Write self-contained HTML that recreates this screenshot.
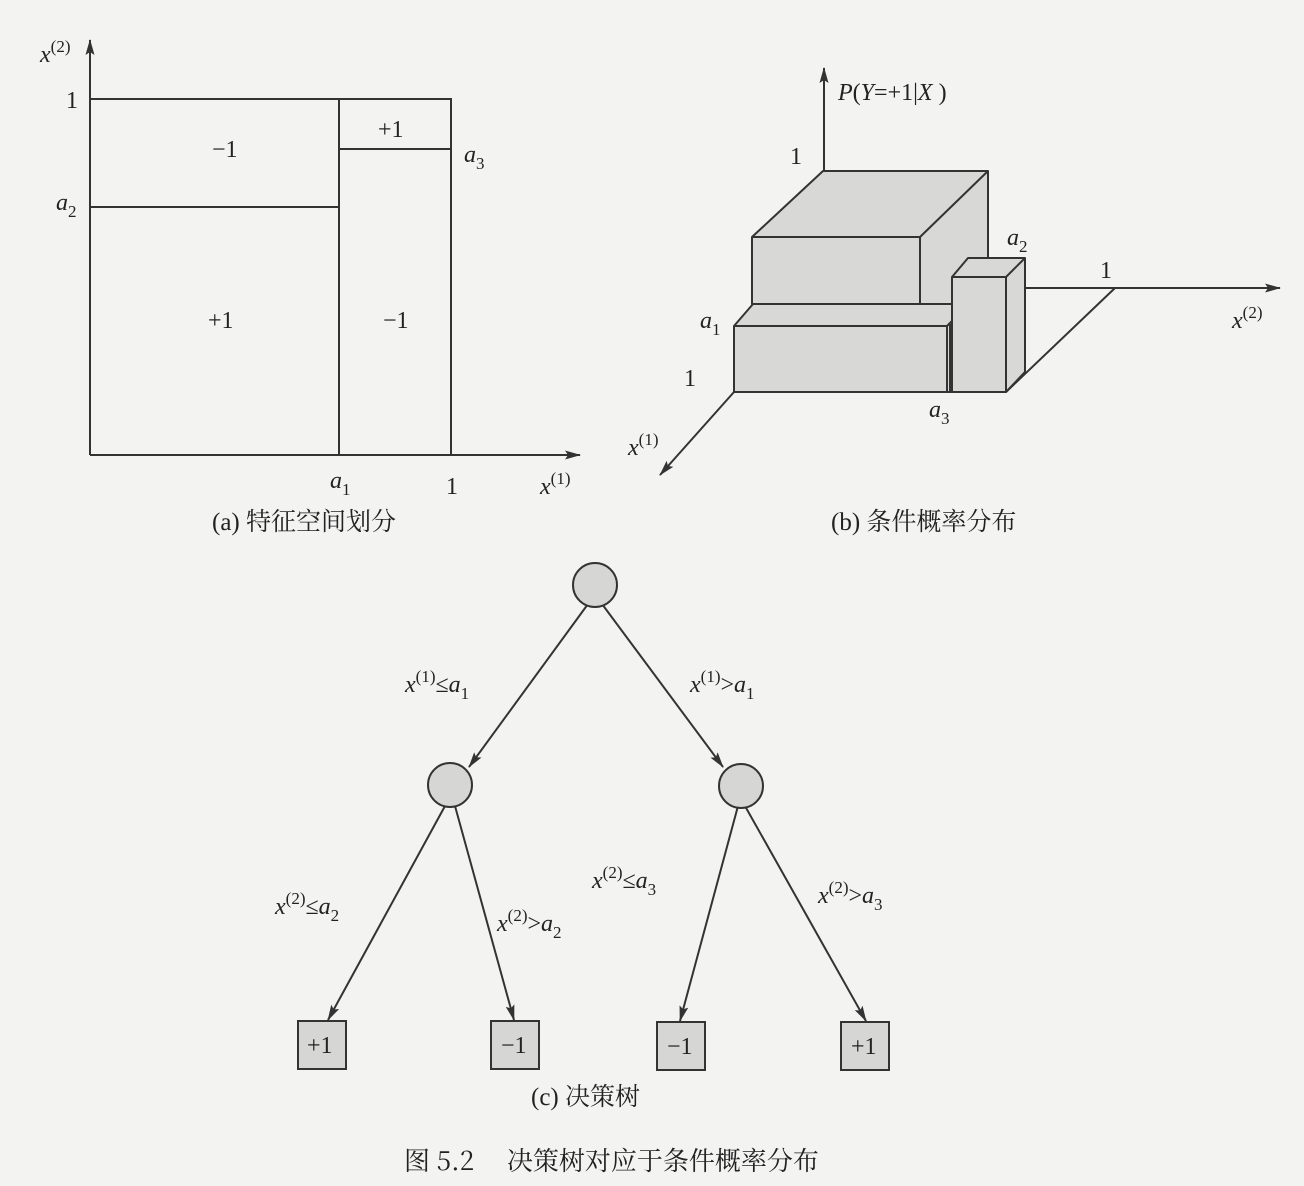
<!DOCTYPE html>
<html><head><meta charset="utf-8"><style>
html,body{margin:0;padding:0;background:#f3f3f2;}
svg{display:block}
text{font-family:"Liberation Serif","Noto Serif CJK SC",serif;fill:#222}
.i{font-style:italic}
</style></head><body>
<svg width="1304" height="1186" viewBox="0 0 1304 1186" xmlns="http://www.w3.org/2000/svg">
<defs>
<marker id="ar" markerWidth="16" markerHeight="9" refX="15" refY="4.5" orient="auto" markerUnits="userSpaceOnUse"><path d="M0,0 L16,4.5 L0,9 L3,4.5 Z" fill="#333"/></marker>
</defs>
<g stroke="#333" stroke-width="2" fill="none">
<!-- (a) -->
<line x1="90" y1="455" x2="90" y2="40" marker-end="url(#ar)"/>
<line x1="90" y1="455" x2="580" y2="455" marker-end="url(#ar)"/>
<polyline points="90,99 451,99 451,455"/>
<line x1="339" y1="99" x2="339" y2="455"/>
<line x1="90" y1="207" x2="339" y2="207"/>
<line x1="339" y1="149" x2="451" y2="149"/>
</g>
<g font-size="24">
<text x="40" y="62"><tspan class="i">x</tspan><tspan font-size="17" dy="-10">(2)</tspan></text>
<text x="66" y="108">1</text>
<text x="56" y="210"><tspan class="i">a</tspan><tspan font-size="17" dy="7">2</tspan></text>
<text x="464" y="162"><tspan class="i">a</tspan><tspan font-size="17" dy="7">3</tspan></text>
<text x="212" y="157">−1</text>
<text x="378" y="137">+1</text>
<text x="208" y="328">+1</text>
<text x="383" y="328">−1</text>
<text x="330" y="488"><tspan class="i">a</tspan><tspan font-size="17" dy="7">1</tspan></text>
<text x="446" y="494">1</text>
<text x="540" y="494"><tspan class="i">x</tspan><tspan font-size="17" dy="-10">(1)</tspan></text>
<text x="212" y="530" font-size="25">(a) 特征空间划分</text>
</g>
<!-- (b) -->
<g stroke="#333" stroke-width="2" fill="#d8d8d6" stroke-linejoin="round">
<line x1="824" y1="171" x2="824" y2="68" marker-end="url(#ar)"/>
<line x1="1025" y1="288" x2="1280" y2="288" marker-end="url(#ar)"/>
<line x1="1006" y1="392" x2="1115" y2="288"/>
<line x1="734" y1="392" x2="660" y2="475" marker-end="url(#ar)"/>
<polygon points="823,171 988,171 988,304 752,304 752,237"/>
<line x1="752" y1="237" x2="920" y2="237"/><line x1="920" y1="237" x2="988" y2="171"/><line x1="920" y1="237" x2="920" y2="304"/>
<polygon points="753,304 952,304 952,392 734,392 734,326"/>
<line x1="734" y1="326" x2="947" y2="326"/><line x1="947" y1="326" x2="947" y2="392"/><line x1="947" y1="326" x2="952" y2="321"/><line x1="950" y1="324" x2="950" y2="392"/>
<polygon points="952,277 968,258 1025,258 1025,372 1006,392 952,392"/>
<line x1="952" y1="277" x2="1006" y2="277"/><line x1="1006" y1="277" x2="1025" y2="258"/><line x1="1006" y1="277" x2="1006" y2="392"/>
</g>
<g font-size="24">
<text x="838" y="100"><tspan class="i">P</tspan>(<tspan class="i">Y</tspan>=+1|<tspan class="i">X</tspan> )</text>
<text x="790" y="164">1</text>
<text x="1007" y="245"><tspan class="i">a</tspan><tspan font-size="17" dy="7">2</tspan></text>
<text x="1100" y="278">1</text>
<text x="1232" y="328"><tspan class="i">x</tspan><tspan font-size="17" dy="-10">(2)</tspan></text>
<text x="700" y="328"><tspan class="i">a</tspan><tspan font-size="17" dy="7">1</tspan></text>
<text x="684" y="386">1</text>
<text x="929" y="417"><tspan class="i">a</tspan><tspan font-size="17" dy="7">3</tspan></text>
<text x="628" y="455"><tspan class="i">x</tspan><tspan font-size="17" dy="-10">(1)</tspan></text>
<text x="831" y="530" font-size="25">(b) 条件概率分布</text>
</g>
<!-- (c) -->
<g stroke="#333" stroke-width="2" fill="#d6d6d4">
<line x1="588" y1="604" x2="469" y2="767" marker-end="url(#ar)"/>
<line x1="602" y1="604" x2="723" y2="767" marker-end="url(#ar)"/>
<line x1="445" y1="806" x2="328" y2="1020" marker-end="url(#ar)"/>
<line x1="455" y1="806" x2="514" y2="1020" marker-end="url(#ar)"/>
<line x1="738" y1="806" x2="680" y2="1021" marker-end="url(#ar)"/>
<line x1="745" y1="806" x2="866" y2="1021" marker-end="url(#ar)"/>
<circle cx="595" cy="585" r="22"/>
<circle cx="450" cy="785" r="22"/>
<circle cx="741" cy="786" r="22"/>
<rect x="298" y="1021" width="48" height="48"/>
<rect x="491" y="1021" width="48" height="48"/>
<rect x="657" y="1022" width="48" height="48"/>
<rect x="841" y="1022" width="48" height="48"/>
</g>
<g font-size="24">
<text x="307" y="1053">+1</text><text x="501" y="1053">−1</text><text x="667" y="1054">−1</text><text x="851" y="1054">+1</text>
<text x="405" y="692"><tspan class="i">x</tspan><tspan font-size="17" dy="-10">(1)</tspan><tspan dy="10">≤</tspan><tspan class="i">a</tspan><tspan font-size="17" dy="7">1</tspan></text>
<text x="690" y="692"><tspan class="i">x</tspan><tspan font-size="17" dy="-10">(1)</tspan><tspan dy="10">&gt;</tspan><tspan class="i">a</tspan><tspan font-size="17" dy="7">1</tspan></text>
<text x="275" y="914"><tspan class="i">x</tspan><tspan font-size="17" dy="-10">(2)</tspan><tspan dy="10">≤</tspan><tspan class="i">a</tspan><tspan font-size="17" dy="7">2</tspan></text>
<text x="497" y="931"><tspan class="i">x</tspan><tspan font-size="17" dy="-10">(2)</tspan><tspan dy="10">&gt;</tspan><tspan class="i">a</tspan><tspan font-size="17" dy="7">2</tspan></text>
<text x="592" y="888"><tspan class="i">x</tspan><tspan font-size="17" dy="-10">(2)</tspan><tspan dy="10">≤</tspan><tspan class="i">a</tspan><tspan font-size="17" dy="7">3</tspan></text>
<text x="818" y="903"><tspan class="i">x</tspan><tspan font-size="17" dy="-10">(2)</tspan><tspan dy="10">&gt;</tspan><tspan class="i">a</tspan><tspan font-size="17" dy="7">3</tspan></text>
<text x="531" y="1105" font-size="25">(c) 决策树</text>
<text x="404" y="1170" font-size="26" style="font-family:'Noto Serif CJK SC','Liberation Serif',serif">图 5.2　 决策树对应于条件概率分布</text>
</g>
</svg>
</body></html>
